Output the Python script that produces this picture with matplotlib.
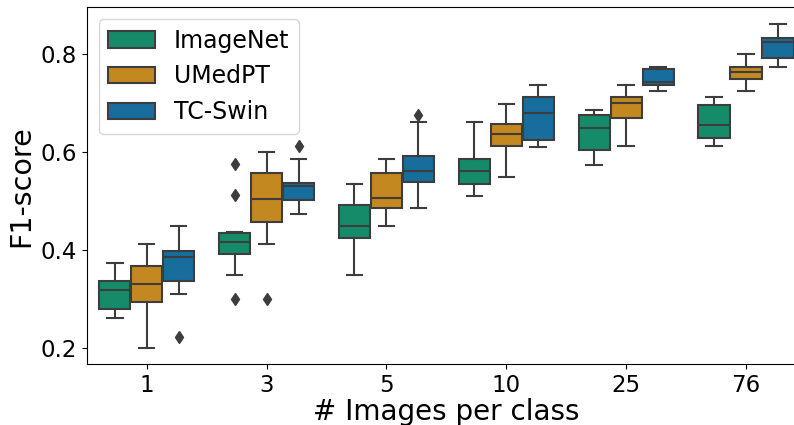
import colorsys
import numpy as np
import matplotlib
matplotlib.use("Agg")
from matplotlib import pyplot as plt
from matplotlib.patches import Patch

groups = ["1", "3", "5", "10", "25", "76"]
models = ["ImageNet", "UMedPT", "TC-Swin"]

# box stats per model, one value per group
imagenet_lo = [0.261, 0.349, 0.349, 0.511, 0.574, 0.612]
imagenet_q1 = [0.280, 0.393, 0.424, 0.536, 0.605, 0.630]
imagenet_med = [0.318, 0.417, 0.449, 0.562, 0.650, 0.656]
imagenet_q3 = [0.336, 0.434, 0.492, 0.586, 0.675, 0.697]
imagenet_hi = [0.374, 0.438, 0.536, 0.662, 0.687, 0.712]
imagenet_fl = [[], [0.575, 0.513, 0.300], [], [], [], []]

umedpt_lo = [0.199, 0.412, 0.449, 0.549, 0.612, 0.725]
umedpt_q1 = [0.295, 0.457, 0.487, 0.612, 0.669, 0.750]
umedpt_med = [0.330, 0.505, 0.506, 0.637, 0.700, 0.763]
umedpt_q3 = [0.367, 0.558, 0.558, 0.658, 0.712, 0.775]
umedpt_hi = [0.412, 0.600, 0.586, 0.699, 0.738, 0.800]
umedpt_fl = [[], [0.300], [], [], [], []]

tcswin_lo = [0.310, 0.474, 0.487, 0.611, 0.725, 0.774]
tcswin_q1 = [0.336, 0.502, 0.540, 0.624, 0.737, 0.793]
tcswin_med = [0.386, 0.530, 0.562, 0.681, 0.744, 0.825]
tcswin_q3 = [0.398, 0.538, 0.592, 0.712, 0.769, 0.834]
tcswin_hi = [0.450, 0.586, 0.662, 0.738, 0.774, 0.862]
tcswin_fl = [[0.223], [0.613], [0.675], [], [], []]

stats_in = [
    (imagenet_lo, imagenet_q1, imagenet_med, imagenet_q3, imagenet_hi, imagenet_fl),
    (umedpt_lo, umedpt_q1, umedpt_med, umedpt_q3, umedpt_hi, umedpt_fl),
    (tcswin_lo, tcswin_q1, tcswin_med, tcswin_q3, tcswin_hi, tcswin_fl),
]

base = ["#029e73", "#de8f05", "#0173b2"]  # seaborn colorblind


def desat(c, p=0.75):
    r, g, b = matplotlib.colors.to_rgb(c)
    h, l, s = colorsys.rgb_to_hls(r, g, b)
    return colorsys.hls_to_rgb(h, l, s * p)


cols = [desat(c) for c in base]
gray = "#3d3d3d"
lw = 1.5

fig = plt.figure(figsize=(7.94, 4.25), dpi=100)
ax = fig.add_axes([0.1092, 0.1428, 0.906, 0.840])

w = 0.8 / 3
x = np.arange(len(groups))
for i, (lo, q1, med, q3, hi, fl) in enumerate(stats_in):
    st = []
    for j in range(len(groups)):
        st.append(dict(whislo=lo[j], q1=q1[j], med=med[j], q3=q3[j],
                       whishi=hi[j], fliers=fl[j]))
    ax.bxp(st, positions=x + (i - 1) * w, widths=w * 0.98, patch_artist=True,
           manage_ticks=False,
           boxprops=dict(facecolor=cols[i], edgecolor=gray, linewidth=lw),
           medianprops=dict(color=gray, linewidth=lw),
           whiskerprops=dict(color=gray, linewidth=lw),
           capprops=dict(color=gray, linewidth=lw),
           flierprops=dict(marker="d", markerfacecolor=gray, markeredgecolor=gray,
                           markersize=6, linestyle="none"))

ax.set_xticks(x)
ax.set_xticklabels(groups, fontsize=16.5)
ax.set_xlim(-0.5, 5.5)
ax.set_ylim(0.1667, 0.896)
ax.set_yticks([0.2, 0.4, 0.6, 0.8])
ax.tick_params(axis="y", labelsize=16.5)
ax.set_xlabel("# Images per class", fontsize=20, labelpad=1)
ax.set_ylabel("F1-score", fontsize=20.5)

handles = [Patch(facecolor=cols[i], edgecolor=gray, linewidth=lw, label=m)
           for i, m in enumerate(models)]
ax.legend(handles=handles, loc="upper left", fontsize=17)

plt.savefig("out.png", dpi=100)
